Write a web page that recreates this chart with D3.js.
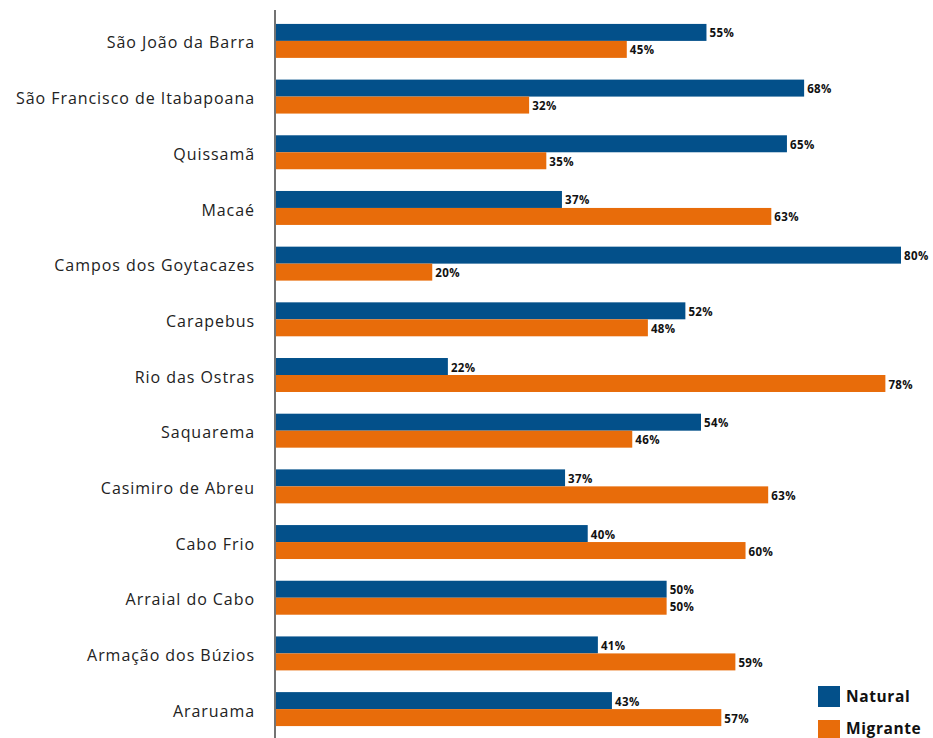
<!DOCTYPE html>
<html>
<head>
<meta charset="utf-8">
<script src="https://cdn.jsdelivr.net/npm/d3@7"></script>
<style>
  body { margin: 0; background: #fff; }
  text { font-family: "Open Sans", "Noto Sans", sans-serif; }
</style>
</head>
<body>
<div id="chart"></div>
<script>
var cities = ["São João da Barra", "São Francisco de Itabapoana", "Quissamã", "Macaé",
  "Campos dos Goytacazes", "Carapebus", "Rio das Ostras", "Saquarema", "Casimiro de Abreu",
  "Cabo Frio", "Arraial do Cabo", "Armação dos Búzios", "Araruama"];
var natural  = [55.1, 67.6, 65.4, 36.6, 80.0, 52.4, 22.0, 54.4, 37.0, 39.9, 50.0, 41.2, 43.0];
var migrante = [44.9, 32.4, 34.6, 63.4, 20.0, 47.6, 78.0, 45.6, 63.0, 60.1, 50.0, 58.8, 57.0];
var seriesNames = ["Natural", "Migrante"];
var colors = ["#03508a", "#e86c0a"];

(function() {
  var w = 933, h = 738;

  var svg = d3.select("#chart").append("svg")
    .attr("width", w)
    .attr("height", h);

  var data = cities.map(function(c, i) {
    return { city: c, values: [natural[i], migrante[i]] };
  });

  var x = d3.scaleLinear().domain([0, 80]).range([276, 901]);
  var y = d3.scaleBand().domain(cities).range([10, 740])
    .paddingInner(0.39).paddingOuter(0.25);
  var y1 = d3.scaleBand().domain([0, 1]).range([0, y.bandwidth()]);

  var groups = svg.selectAll(".grp")
    .data(data)
    .enter().append("g")
    .attr("class", "grp")
    .attr("transform", function(d) { return "translate(0," + y(d.city) + ")"; });

  groups.selectAll("rect")
    .data(function(d) { return d.values; })
    .enter().append("rect")
    .attr("x", x(0))
    .attr("y", function(d, i) { return y1(i); })
    .attr("width", function(d) { return x(d) - x(0); })
    .attr("height", y1.bandwidth())
    .attr("fill", function(d, i) { return colors[i]; });

  groups.selectAll(".val")
    .data(function(d) { return d.values; })
    .enter().append("text")
    .attr("class", "val")
    .attr("x", function(d) { return x(d) + 3; })
    .attr("y", function(d, i) { return y1(i) + y1.bandwidth() / 2 + 1; })
    .attr("dy", "0.35em")
    .attr("font-size", 11.5)
    .attr("letter-spacing", 0.4)
    .attr("font-weight", "bold")
    .attr("fill", "#111")
    .text(function(d) { return Math.round(d) + "%"; });

  // category labels
  groups.append("text")
    .attr("x", 255)
    .attr("y", y.bandwidth() / 2 + 2)
    .attr("dy", "0.35em")
    .attr("text-anchor", "end")
    .attr("font-size", 16)
    .attr("letter-spacing", 0.95)
    .attr("fill", "#222")
    .text(function(d) { return d.city; });

  // vertical axis line
  svg.append("line")
    .attr("x1", 275).attr("x2", 275)
    .attr("y1", 10).attr("y2", h)
    .attr("stroke", "#444")
    .attr("stroke-width", 1.5);

  // legend
  var legend = svg.selectAll(".legend")
    .data(seriesNames)
    .enter().append("g")
    .attr("class", "legend")
    .attr("transform", function(d, i) { return "translate(818," + (686 + i * 34) + ")"; });

  legend.append("rect")
    .attr("width", 22).attr("height", 21)
    .attr("fill", function(d, i) { return colors[i]; });

  legend.append("text")
    .attr("x", 28).attr("y", function(d, i) { return i ? 9 : 11; })
    .attr("dy", "0.35em")
    .attr("font-size", 15.5)
    .attr("letter-spacing", 0.6)
    .attr("font-weight", "bold")
    .attr("fill", "#111")
    .text(function(d) { return d; });
})();
</script>
</body>
</html>
